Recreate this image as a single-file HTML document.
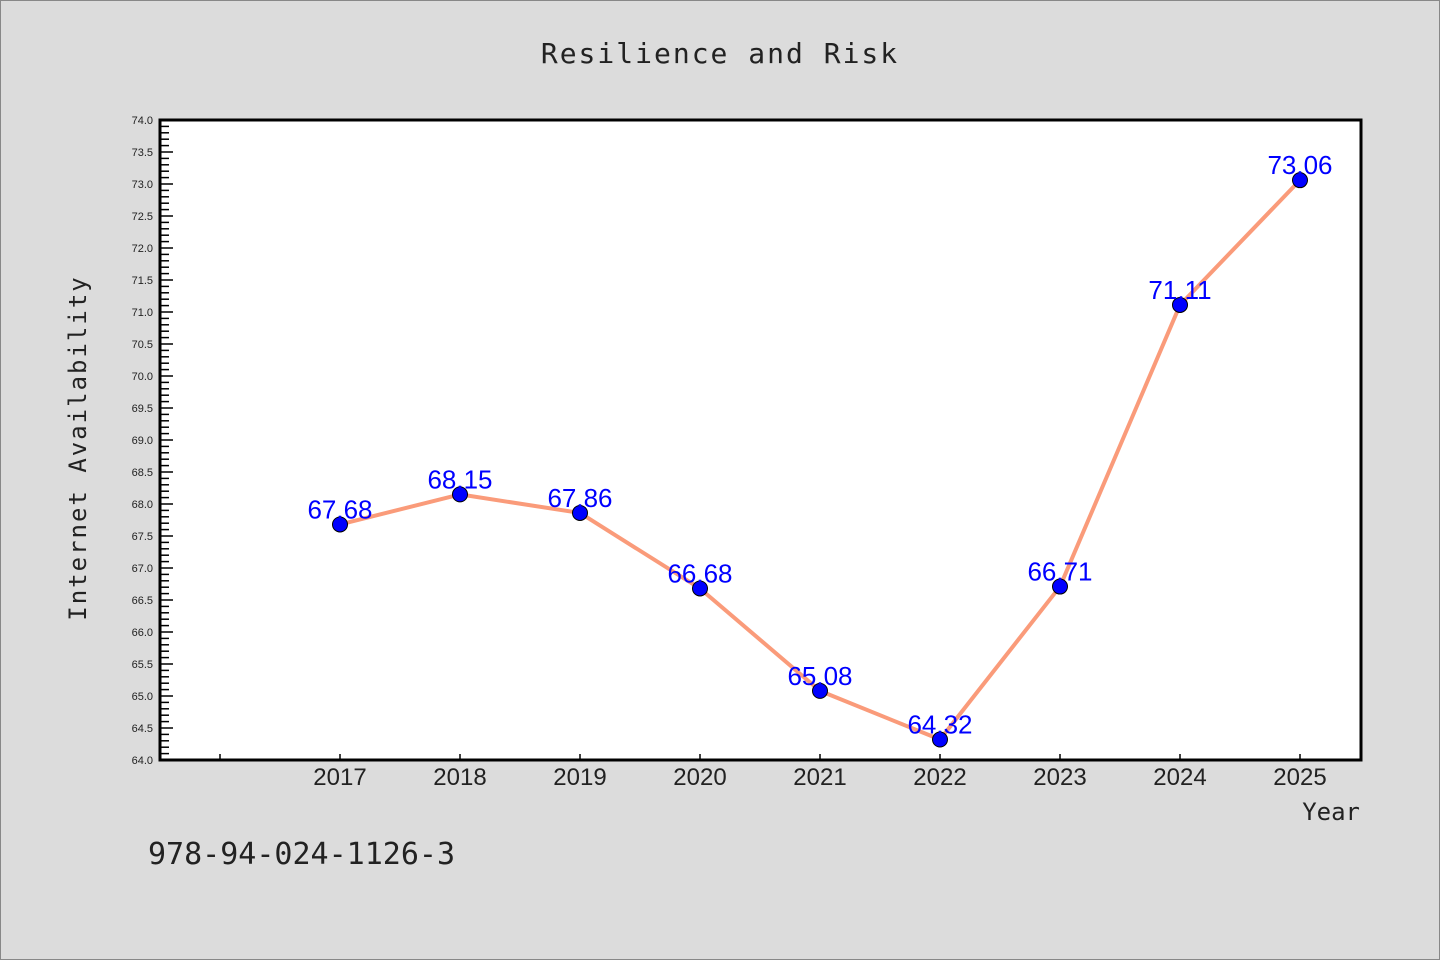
<!DOCTYPE html>
<html><head><meta charset="utf-8"><style>
html,body{margin:0;padding:0;background:#dcdcdc;}
svg{display:block;font-family:"Liberation Sans","DejaVu Sans",sans-serif;}
</style></head><body>
<svg width="1440" height="960" viewBox="0 0 1440 960">
<rect x="0.5" y="0.5" width="1439" height="959" fill="#dcdcdc" stroke="#888"/>
<text x="720" y="63" text-anchor="middle" font-size="28" fill="#222" letter-spacing="2" font-family="DejaVu Sans Mono, Liberation Mono, monospace">Resilience and Risk</text>
<rect x="160" y="120" width="1201" height="640" fill="#fff"/>
<g id="axes"></g>
<g id="marks"></g>
<rect x="160" y="120" width="1201" height="640" fill="none" stroke="#000" stroke-width="3"/>
<text x="86" y="448" text-anchor="middle" font-size="24" fill="#222" letter-spacing="2" font-family="DejaVu Sans Mono, Liberation Mono, monospace" transform="rotate(-90 86 448)">Internet Availability</text>
<text x="1360" y="820" text-anchor="end" font-size="24" fill="#222" font-family="DejaVu Sans Mono, Liberation Mono, monospace">Year</text>
<text x="148" y="864" font-size="30" fill="#222" font-family="DejaVu Sans Mono, Liberation Mono, monospace">978-94-024-1126-3</text>
</svg>
<script>
const years = [2017, 2018, 2019, 2020, 2021, 2022, 2023, 2024, 2025];
const values = [67.68, 68.15, 67.86, 66.68, 65.08, 64.32, 66.71, 71.11, 73.06];
const valueLabels = ["67.68", "68.15", "67.86", "66.68", "65.08", "64.32", "66.71", "71.11", "73.06"];
const xTicks = [2016, 2017, 2018, 2019, 2020, 2021, 2022, 2023, 2024, 2025];
const yMin = 64, yMax = 74;
const NS = "http://www.w3.org/2000/svg";
function xs(v){ return 160 + (v - 2015.5) * 120; }
function ys(v){ return 760 - (v - yMin) / (yMax - yMin) * 640; }
function mk(tag, attrs, parent){ const e=document.createElementNS(NS,tag); for(const k in attrs) e.setAttribute(k,attrs[k]); parent.appendChild(e); return e; }
const axes = document.getElementById('axes');
for (let i = 0; i <= 100; i++) {
  const v = yMin + i * 0.1;
  const major = i % 5 === 0;
  const t = mk('line', {x1:160, x2: major ? 173 : 169, y1: ys(v), y2: ys(v), stroke:'#000', 'stroke-width':1.5}, axes);
  
  
  if (major) {
    const l = mk('text', {x:153, y: ys(v)+4, 'text-anchor':'end', 'font-size':11, fill:'#222'}, axes);
    l.textContent = v.toFixed(1);
    
    
  }
}
xTicks.forEach(y => {
  const t = mk('line', {x1: xs(y), x2: xs(y), y1:760, y2:754, stroke:'#000', 'stroke-width':1.5}, axes);
  
  
  if (years.includes(y)) {
    const l = mk('text', {x: xs(y), y: 785, 'text-anchor':'middle', 'font-size':24, fill:'#222'}, axes);
    l.textContent = y;
    
    
  }
});
const marks = document.getElementById('marks');
const pl = mk('polyline', {points: years.map((y,i)=>xs(y)+','+ys(values[i])).join(' '), fill:'none', stroke:'#fa9b7a', 'stroke-width':4, 'stroke-linejoin':'round'}, marks);


years.forEach((y,i) => {
  const c = mk('circle', {cx: xs(y), cy: ys(values[i]), r:7.5, fill:'#0000ff', stroke:'#000', 'stroke-width':1}, marks);
  
  
  const l = mk('text', {x: xs(y), y: ys(values[i]) - 6, 'text-anchor':'middle', 'font-size':26, fill:'#0000ff'}, marks);
  l.textContent = valueLabels[i];
  
  
});
</script>
</body></html>
